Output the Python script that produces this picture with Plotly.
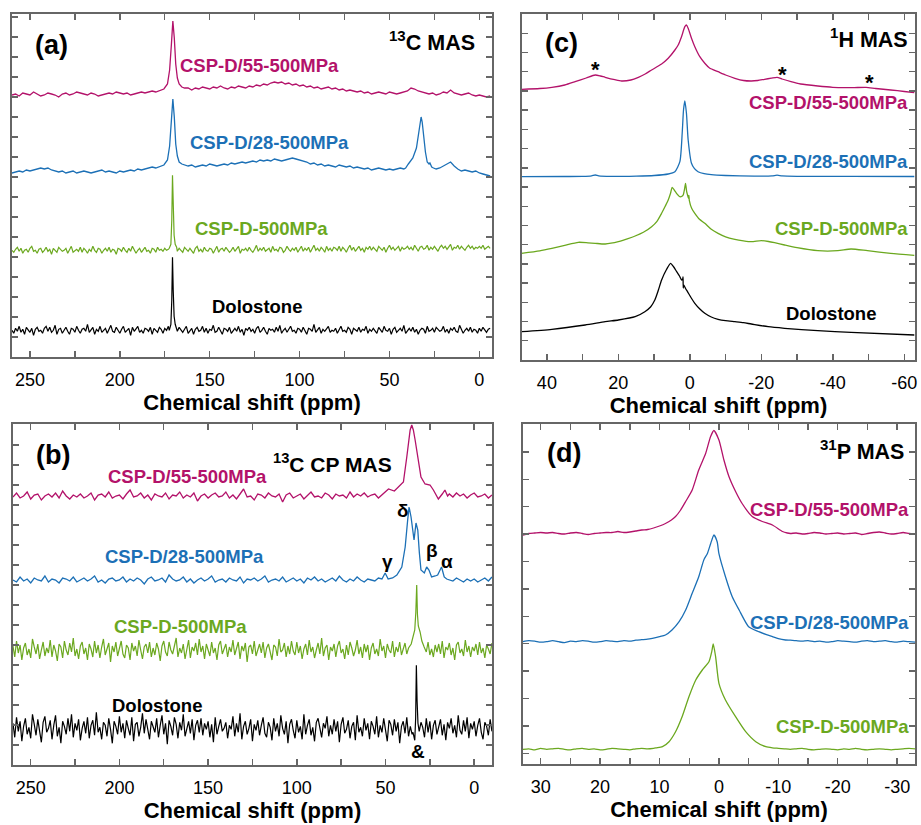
import numpy as np
import plotly.graph_objects as go

FONT = "Liberation Sans, Arial, sans-serif"
C_MAG = "#B3126A"
C_BLU = "#1C70B6"
C_GRN = "#6BA81F"
C_BLK = "#000000"
AX = "#666666"

# tick labels
a_tickvals = [250, 200, 150, 100, 50, 0]
a_ticktext = ["250", "200", "150", "100", "50", "0"]
c_tickvals = [40, 20, 0, -20, -40, -60]
c_ticktext = ["40", "20", "0", "-20", "-40", "-60"]
d_tickvals = [30, 20, 10, 0, -10, -20, -30]
d_ticktext = ["30", "20", "10", "0", "-10", "-20", "-30"]

# ===================== (a) 13C MAS =====================
# magenta / blue: baseline grid 260 -> -6 ppm, step 2
A_START = 260
a55_base = [-1,0,-2,1,0,-1,2,0,-2,-1,1,0,-1,-3,0,1,-1,0,2,1,0,-1,1,0,-2,-1,0,1,0,2,1,0,1,-1,0,1,2,1,2,3,2,
            3,4,5,6,5,6,5,
            5,6,4,6,5,7,6,5,7,6,8,6,5,7,6,8,7,6,8,
            7,9,8,10,9,11,12,11,12,10,11,9,10,8,
            9,7,8,6,7,5,6,7,5,6,4,5,3,4,3,
            2,3,1,2,0,1,2,1,0,2,1,0,1,2,3,
            6,5,3,2,1,
            0,1,-1,0,2,1,4,1,0,-1,0,1,-1,-2,-1,-2,-3,-2]
a55_pk_ppm = [178, 175.5, 173.5, 172.3, 171.3, 170.5, 169.7, 168.9, 168, 167, 165.5, 164]
a55_pk_val = [3, 5, 10, 24, 50, 73, 56, 30, 16, 10, 7, 6]

a28_base = [-1,0,1,0,2,1,2,3,4,3,4,2,1,0,1,-1,0,1,-1,0,1,0,-1,0,1,2,0,1,0,-1,1,0,1,2,1,3,2,3,4,5,4,
            5,6,7,8,7,7,6,
            7,6,7,5,6,7,6,8,7,6,7,8,7,9,8,9,10,9,10,
            11,10,12,11,12,11,13,12,11,12,13,14,13,12,
            11,10,8,9,7,8,6,7,6,5,7,6,5,6,4,
            5,4,3,4,2,3,4,3,2,3,2,3,4,3,4,
            5,8,20,40,30,
            8,5,3,4,6,8,10,6,3,1,2,1,0,1,-1,-2,-3,-4]
a28_pk1_ppm = [178, 175.5, 173.5, 172.3, 171.3, 170.5, 169.7, 168.9, 168, 167, 165.5, 164]
a28_pk1_val = [5, 7, 12, 26, 52, 73, 55, 28, 16, 10, 8, 7]
a28_pk2_ppm = [41, 39.5, 37, 35, 34, 33, 32.4, 31.8, 31, 30, 29, 28, 27.5, 26.5, 25.5]
a28_pk2_val = [4, 8, 14, 24, 36, 50, 55, 50, 36, 20, 10, 8, 9, 5, 4]

# green / black: baseline grid 260 -> -6 ppm, step 1
a500_base = [0,-2,1,3,-1,2,-3,0,1,-2,2,4,-1,0,-3,1,2,-2,0,3,
             -1,1,-4,2,0,-2,3,1,-1,0,2,-3,1,4,-2,0,1,-1,3,-2,
             2,0,-3,1,-1,4,0,-2,2,1,-3,0,2,-1,3,-2,1,0,-4,2,
             1,-1,3,0,-2,2,-1,4,1,-3,0,2,-2,1,3,-1,0,-3,2,1,
             -2,3,0,1,-1,2,0,1,0,2,0,1,-1,2,0,-2,3,1,-1,2,
             0,-3,2,4,-1,1,-2,3,0,-1,2,1,-3,0,4,-2,1,2,-1,3,
             1,-2,0,3,-1,2,4,-3,1,0,2,-1,3,0,-2,1,5,-1,2,0,
             3,-1,1,2,-2,4,0,1,-1,3,2,-2,0,4,1,-1,2,0,3,-2,
             1,4,-1,2,0,3,-2,1,5,0,2,-1,3,1,-2,4,0,2,-1,3,
             2,0,4,-1,3,1,-2,2,5,0,3,-1,1,4,0,2,-2,3,1,4,
             0,3,1,-1,4,2,0,3,-2,2,5,1,3,0,2,4,-1,3,1,2,
             4,1,3,0,5,2,-1,3,4,1,2,5,0,3,1,4,2,-1,3,5,
             2,4,1,3,6,0,3,2,5,1,4,2,0,3,5,2,4,1,3,2,
             4,2,5,1,3,4,2]
a500_pk_ppm = [172.5, 171.6, 171.1, 170.7, 170.3, 169.8, 169.2, 168.4]
a500_pk_val = [2, 6, 30, 75, 42, 15, 6, 3]

adol_base = [0,-3,2,-1,4,-2,1,-4,3,0,-2,2,-5,1,3,-1,0,-3,2,4,
             -1,3,-2,0,5,-4,1,2,-3,0,3,-1,-4,2,1,-2,4,0,-3,1,
             2,-1,6,-2,0,3,-4,1,-1,4,-2,0,2,-3,1,5,-1,-2,3,0,
             -3,1,4,-2,0,2,-5,3,-1,1,4,-2,0,-3,2,1,-1,3,-4,2,
             0,-2,3,1,-3,2,0,4,-1,1,0,2,-1,3,0,-2,1,4,-3,0,
             2,-4,1,3,-1,0,4,-2,2,-3,1,0,5,-2,-1,3,0,-4,2,1,
             -1,3,-3,0,2,-1,4,-2,1,-5,2,0,3,-1,1,-3,2,4,-2,0,
             3,-1,-4,2,0,1,-2,3,-1,5,-3,0,2,-2,1,4,-1,0,-3,2,
             1,-2,3,0,-4,2,1,-1,6,-2,0,3,-3,1,-1,2,4,-2,0,-1,
             2,-3,1,4,-1,0,-2,3,1,-4,2,0,-1,3,-2,1,0,4,-3,1,
             -1,2,0,-3,3,1,-2,4,0,-1,2,-4,1,3,-2,0,2,-1,5,-3,
             0,2,-1,3,-2,1,-4,0,2,1,-3,4,-1,0,2,-2,3,1,-1,0,
             4,-2,1,-3,2,0,3,-1,-2,5,1,-3,0,2,-1,3,-2,1,0,-3,
             2,-1,3,0,-2,1,2]
adol_pk_ppm = [172.5, 171.6, 171.1, 170.7, 170.3, 169.8, 169.2, 168.4]
adol_pk_val = [0, 6, 30, 73, 40, 14, 6, 2]

# ===================== (b) 13C CP MAS =====================
B_START = 260
# magenta / blue: step 2 ppm
b55_base = [-1,3,-2,0,4,-3,1,2,-4,0, 2,-1,3,-2,5,0,-3,1,-1,2, -2,0,3,-4,1,2,-1,4,-2,0,
            1,-3,2,6,-1,0,3,-2,1,-4, 2,0,-1,3,-3,1,0,4,-2,1, -1,3,-5,0,2,-2,1,3,-1,0,
            4,-2,1,-3,2,7,-1,0,-4,2, 1,-2,3,0,-1,2,-6,1,3,-2, 0,2,-3,1,4,-1,0,-2,3,1,
            -3,2,0,1,-2,4,-1,2,0,3, -1,1,2,-2,3,0,5,6,7,8, 9,10,20,40,60,40,20,12,8,5,
            6,-3,4,2,-1,3,0,2,-2,1, 3,-1,0,2,-2,1]
b55_pk_ppm = [52, 48.3, 45, 42.7, 39.9, 38.0, 36.1, 35.2, 34.3, 33.3, 31.8, 30.0, 27.7, 24.9, 23.0, 20.2, 18, 16.5, 15]
b55_pk_val = [1, 7, 5, 9, 14, 39, 66, 71, 66, 56, 39, 19, 12, 11, 6, -3, 2, 6, 0]

b28_base = [0,-2,3,-1,1,-3,2,0,-1,4, -2,1,0,-3,2,1,-1,3,-2,0, 2,-1,1,4,-2,0,-3,1,2,-1,
            0,3,-2,1,-1,2,0,-4,1,3, -1,0,2,-2,5,1,-1,0,3,-2, 1,-3,0,2,-1,1,4,-2,0,1,
            -2,2,0,-1,3,-3,1,0,2,-1, 1,4,-2,0,1,-1,3,-2,0,2, -1,1,-3,2,0,3,-1,1,-2,0,
            2,-1,4,0,-2,1,-1,3,0,-2, 1,0,-1,2,-2,1,3,0,2,1, 10,30,60,50,30,10,8,10,4,2,
            3,10,4,0,-1,2,0,-2,1,-1, 1,-2,0,2,-1,3]
b28_pk_ppm = [52, 50.2, 48.5, 46, 43.6, 40.8, 38.9, 37.5, 36.7, 35.6, 34.7, 33.9, 32.8, 31.8, 30.9, 30.0,
              28.1, 26.8, 25.5, 24.0, 22, 20.6, 18.4, 16.9, 15.5, 14]
b28_pk_val = [1, 7, 1, 2, 5, 13, 33, 60, 73, 63, 50, 40, 57, 50, 27, 10,
              7, 13, 10, 3, 4, 5, 13, 3, 1, 0]

# green / black: step 1 ppm
b500_base = [4,-7,9,-3,5,-10,2,7,-5,1,-8,11,3,-4,6,-9,0,8,-6,2,
             -3,10,-7,5,-1,-11,6,3,-8,9,0,-5,7,-2,12,-6,1,-9,4,8,
             -4,2,-10,6,1,-7,9,-3,5,-8,3,11,-5,0,7,-12,4,-2,8,-6,
             1,9,-4,-8,5,2,-10,7,-1,4,-6,10,0,-9,3,6,-3,8,-7,2,
             -5,7,1,-11,4,9,-2,-6,8,0,-4,5,12,-7,2,-3,6,-9,1,10,
             -8,3,-1,7,-5,11,-2,4,-9,6,0,-6,8,-3,2,-10,5,9,-4,1,
             6,-7,3,-2,10,-5,1,8,-9,4,-1,7,-12,3,5,-4,9,-6,0,6,
             -3,8,-8,2,6,-1,-10,5,3,-6,11,-2,0,7,-7,4,-4,9,-1,-5,
             8,-3,4,-9,1,6,-5,10,-2,3,-8,0,7,-4,12,-6,2,5,-10,3,
             -1,6,-7,4,9,-3,1,-9,5,-5,8,2,-6,0,10,-4,3,-8,6,-2,
             5,-10,2,7,-4,1,-6,11,-1,4,-8,6,0,-3,9,-7,3,-2,8,-5,
             2,7,-4,5,-8,3,9,-6,0,4,-3,6,-9,2,8,-5,1,-7,5,-2,
             6,-4,9,-8,3,0,7,-5,2,-10,5,8,-3,1,-6,10,-2,4,-7,3,
             -1,6,-5,8,-3,2,-8,5,1,-4,7]
b500_pk_ppm = [37, 35.5, 34.5, 33.5, 32.9, 32.4, 32.0, 31.5, 30.5, 29.5, 28.2, 27]
b500_pk_val = [2, 6, 14, 20, 38, 65, 36, 24, 18, 9, 3, -2]

bdol_base = [5,-9,11,-3,7,-13,2,10,-6,1,-10,14,4,-7,9,-2,-14,6,12,-4,
             0,8,-11,3,13,-8,1,-15,7,2,-6,10,-3,14,-9,5,-2,9,-12,0,
             7,-5,11,-10,3,8,-7,16,-4,1,-11,6,3,-8,10,-1,-15,7,2,-6,
             12,-4,5,-10,8,0,-7,11,-13,4,6,-8,1,15,-5,9,-3,-11,7,0,
             -4,10,-9,3,13,-6,5,-16,8,2,-7,11,4,-10,6,-2,14,-8,1,7,
             -5,9,-12,3,8,-4,10,-7,5,-1,7,-9,4,-14,11,-6,2,9,-3,0,
             6,-10,3,-1,12,-8,5,-4,15,-11,2,7,-6,0,9,-13,4,-2,8,-7,
             3,11,-5,-9,6,1,-12,10,-3,5,-8,13,0,-6,7,-15,4,9,-2,-10,
             8,-4,2,-11,14,-6,3,9,-7,1,-13,6,10,-2,-9,5,0,12,-8,3,
             -6,9,-3,7,-14,4,11,-5,-1,8,-10,2,6,-12,13,-4,1,-8,10,-2,
             5,-11,7,2,-6,12,-9,3,-4,10,-1,-13,8,4,-7,9,-3,6,-15,2,
             7,-5,11,-8,2,-6,9,-14,4,-3,6,1,-9,10,-4,7,-11,3,8,-6,
             2,9,-7,4,-12,6,0,10,-5,3,-9,13,-2,-6,8,-3,11,-10,5,-1,
             7,-8,3,10,-4,-11,6,2,-7,9,-3]
bdol_pk_ppm = [34.5, 33.5, 33.0, 32.6, 32.2, 31.7, 31.0, 30.5]
bdol_pk_val = [-4, -12, 10, 63, 28, 5, -3, 4]

# ===================== (c) 1H MAS : key points (ppm, intensity) =====================
c55_ppm = [47, 42, 38.6, 35, 32.1, 29, 26.5, 25, 23.7, 21, 19.1, 16.5, 14.4, 12.5, 10.7, 7.9, 6.05, 4.18, 3.26,
           2.33, 1.4, 0.95, 0.47, -0.46, -1.39, -2.79, -4.18, -5.5, -7.9, -10, -12.6, -15, -17.2, -19, -20.9,
           -22.8, -24.4, -25.8, -28.3, -31, -35.8, -40, -43.2, -46, -49.3, -52, -56.2, -60, -62.8]
c55_val = [3.7, 4.5, 5.7, 8, 11.3, 15, 18, 17, 15.7, 13.3, 12, 13, 15.7, 19, 23, 29, 34.7, 43, 48,
           56.3, 66.3, 68, 64.7, 54.7, 46.3, 36.3, 29.7, 25, 21.3, 18, 14.7, 12.5, 12, 12.5, 13.7,
           14.8, 15.7, 14, 11.3, 9, 7, 5.7, 5.3, 5.4, 5.7, 4.5, 3, 1.5, 0.3]

c28_ppm = [47, 35, 30, 27.5, 26.5, 25.5, 22, 15, 10, 6.05, 4.18, 2.79, 2.14, 1.77, 1.4, 0.95, 0.47, -0.46,
           -1.3, -2.3, -4, -6, -10, -18, -23, -24.4, -25.8, -30, -45, -62.8]
c28_val = [0, 0.2, 0.3, 0.8, 1.7, 0.8, 0.3, 0.6, 1.2, 2.7, 5, 15, 43.4, 66.7, 75.7, 63.4, 36.7, 13.4,
           8, 5, 3, 2, 1.2, 0.6, 0.8, 1.5, 0.8, 0.4, 0.3, 0.2]

c500_ppm = [47.1, 42, 38.6, 35, 31.2, 28.5, 26.5, 23.7, 20, 17.5, 15.3, 13, 10.7, 9.2, 7.9, 6.9, 6.05, 5.4,
            4.94, 4.3, 3.73, 2.8, 2.2, 1.87, 1.5, 1.21, 0.9, 0.65, 0.4, 0.28, 0.15, -0.5, -1.39, -2.7,
            -4.18, -6, -7.9, -10, -12.6, -15, -17.2, -20, -22, -23.7, -26.5, -30, -35.8, -41.4, -45.1,
            -49.7, -56.2, -62.8]
c500_val = [2, 4.5, 7, 10, 13, 12.5, 12, 11.3, 13.6, 16.5, 19.3, 23, 28.6, 34, 42, 49, 55.3, 62,
            68, 65, 62, 58.6, 59, 60.3, 66, 72, 64, 60.3, 57, 60, 55, 47, 42, 36,
            32, 26, 22, 18.5, 16, 14.5, 13.6, 14.6, 13.8, 12.6, 10.3, 7.6, 4.6, 4.6, 6.3,
            4.6, 2, 0]

cdol_ppm = [47.1, 38.6, 29.3, 23.7, 20, 15.3, 12.6, 11, 9.8, 8.8, 7.9, 6.5, 5.4, 4.5, 3.7, 2.9, 2.3, 1.95,
            1.9, 1.85, 1.7, 1.2, 0.65, -0.4, -1.39, -2.8, -4.18, -6, -7.9, -10, -12.6, -15, -17.2,
            -21.9, -26.5, -35.8, -45.1, -62.8]
cdol_val = [3.3, 5.7, 10, 13.3, 15, 18.3, 23.3, 28, 35, 45, 55, 65.7, 71.7, 68, 63.3, 59, 55, 56.5,
            58, 47, 50, 46.5, 43.3, 37, 31.7, 26, 21.7, 18, 15.7, 14.3, 13.3, 12.3, 11,
            8.3, 6.7, 4.3, 2.7, 0]

# ===================== (d) 31P MAS : left baseline (1 ppm steps from 33), peak, right baseline (to -33) =====================
D_LEFT, D_RIGHT = 33, -33
d55_left = [-1.5,0,0.5,1,0.5,1,0,-0.5,0.5,1,0,-1,0,0.5,1,1,2,1,1.5,2.5,3.5,4]
d55_pk_ppm = [11, 10, 9, 8, 7.3, 6.5, 5.6, 4.5, 3.4, 2.24, 1.4, 0.84, 0, -0.84, -1.68, -2.8, -3.9,
              -5.6, -7.3, -9.0, -10.7, -11.5]
d55_pk_val = [5.5, 7.5, 10, 13.5, 17, 23, 32, 43.5, 63.5, 80, 97, 103, 93.5, 73.5, 57, 42, 30,
              17, 12, 8.5, 2, 0.5]
d55_right = [0,0.5,-0.5,0,1,0.5,-0.5,0,0.5,-0.5,0,0.5,-1,0,1,1.5,0.5,-0.5,0,1,0,-0.5]

d28_left = [0,1,0.5,-0.5,0,1,0,-1,0.5,0,1,0.5,-0.5,0,1,0.5,0,1,0.5,1.5,2]
d28_pk_ppm = [12, 11.2, 10, 9, 7.9, 6.7, 5.6, 4.5, 3.4, 2.53, 1.96, 1.4, 0.84, 0.3, 0, -1.1, -2.24,
              -3.4, -5.0, -6.7, -8, -9, -10, -11.2]
d28_pk_val = [2.5, 3.4, 5, 6.7, 11.7, 20, 31.7, 48.4, 65, 82, 88, 98, 106.7, 100, 88, 65, 45,
              31.7, 15, 10, 7, 5, 3, 1.7]
d28_right = [1.5,1,0.5,1,0,0.5,-0.5,0,1,0.5,0,-0.5,0.5,1,0,0.5,1,0,-0.5,0.5,0,-0.5]

d500_left = [0,0.5,-0.5,1,0,0.5,1,0,-0.5,0.5,1,0,0.5,-0.5,0,1,0.5,0,-0.5,0.5,1,0.5,1]
d500_pk_ppm = [10.5, 9.5, 8.4, 7.3, 6.2, 5.05, 3.9, 2.8, 1.68, 1.2, 0.96, 0.56, 0, -1.1, -2.8, -4.5,
               -6.2, -7.9, -9]
d500_pk_val = [1.5, 2.6, 7.6, 17.6, 32.6, 52.6, 69.3, 79.3, 87.6, 98, 105.3, 92.6, 66, 49.3, 32.6,
               17.6, 7.6, 2.6, 1.5]
d500_right = [1,0.5,0,0.5,1,0,-0.5,0,0.5,0,-0.5,0.5,0,1,0,-0.5,0,0.5,0,-0.5,0,0.5,1,0.5]


# ---------------- helpers ----------------
def grid(start, step, n):
    return [start - step * i for i in range(n)]


def merge(base_ppm, base_val, peaks):
    pts = list(zip(base_ppm, base_val))
    for pp, pv in peaks:
        lo, hi = min(pp), max(pp)
        pts = [(p, v) for p, v in pts if p > hi or p < lo]
        pts += list(zip(pp, pv))
    pts.sort(key=lambda t: -t[0])
    return [p for p, _ in pts], [v for _, v in pts]


fig = go.Figure()


def add(x, y, color, xa, ya, off, shape="linear", width=1.3):
    fig.add_trace(go.Scatter(x=x, y=[v + off for v in y], mode="lines", xaxis=xa, yaxis=ya,
                             line=dict(color=color, width=width, shape=shape, smoothing=0.6),
                             showlegend=False, hoverinfo="skip"))


# panel a
x, y = merge(grid(A_START, 2, len(a55_base)), a55_base, [(a55_pk_ppm, a55_pk_val)])
add(x, y, C_MAG, "x", "y", 263)
x, y = merge(grid(A_START, 2, len(a28_base)), a28_base, [(a28_pk1_ppm, a28_pk1_val), (a28_pk2_ppm, a28_pk2_val)])
add(x, y, C_BLU, "x", "y", 185)
x, y = merge(grid(A_START, 1, len(a500_base)), a500_base, [(a500_pk_ppm, a500_pk_val)])
add(x, y, C_GRN, "x", "y", 106.7, width=1.2)
x, y = merge(grid(A_START, 1, len(adol_base)), adol_base, [(adol_pk_ppm, adol_pk_val)])
add(x, y, C_BLK, "x", "y", 26.7, width=1.2)

# panel b
x, y = merge(grid(B_START, 2, len(b55_base)), b55_base, [(b55_pk_ppm, b55_pk_val)])
add(x, y, C_MAG, "x2", "y2", 269)
x, y = merge(grid(B_START, 2, len(b28_base)), b28_base, [(b28_pk_ppm, b28_pk_val)])
add(x, y, C_BLU, "x2", "y2", 185)
x, y = merge(grid(B_START, 1, len(b500_base)), b500_base, [(b500_pk_ppm, b500_pk_val)])
add(x, y, C_GRN, "x2", "y2", 115, width=1.2)
x, y = merge(grid(B_START, 1, len(bdol_base)), bdol_base, [(bdol_pk_ppm, bdol_pk_val)])
add(x, y, C_BLK, "x2", "y2", 36.7, width=1.2)

# panel c
add(c55_ppm, c55_val, C_MAG, "x3", "y3", 267, "spline")
add(c28_ppm, c28_val, C_BLU, "x3", "y3", 183.3, "spline")
add(c500_ppm, c500_val, C_GRN, "x3", "y3", 104.7, "spline")
add(cdol_ppm, cdol_val, C_BLK, "x3", "y3", 25, "spline")


# panel d
def dtrace(left, pk_ppm, pk_val, right):
    lx = [D_LEFT - i for i in range(len(left))]
    rx = [D_RIGHT + (len(right) - 1 - i) for i in range(len(right))]
    return lx + list(pk_ppm) + rx, list(left) + list(pk_val) + list(right)


x, y = dtrace(d55_left, d55_pk_ppm, d55_pk_val, d55_right)
add(x, y, C_MAG, "x4", "y4", 230.5, "spline")
x, y = dtrace(d28_left, d28_pk_ppm, d28_pk_val, d28_right)
add(x, y, C_BLU, "x4", "y4", 122.3, "spline")
x, y = dtrace(d500_left, d500_pk_ppm, d500_pk_val, d500_right)
add(x, y, C_GRN, "x4", "y4", 14.7, "spline")


# ---------------- axes ----------------
def xax(dom, rng, tv, tt, mdt, anchor):
    return dict(domain=dom, range=rng, anchor=anchor, tickmode="array", tickvals=tv, ticktext=tt,
                ticks="inside", ticklen=6, tickwidth=1.4, tickcolor=AX,
                minor=dict(tickmode="linear", tick0=0, dtick=mdt, ticks="inside", ticklen=6,
                           tickwidth=1.4, tickcolor=AX),
                showline=True, linecolor=AX, linewidth=1.7, mirror="allticks",
                showgrid=False, zeroline=False, ticklabelstandoff=6,
                tickfont=dict(family=FONT, size=18, color="black"),
                title=dict(text="<b>Chemical shift (ppm)</b>", standoff=5,
                           font=dict(family=FONT, size=22, color="black")))


def yax(dom, rng, t0, dt, anchor):
    return dict(domain=dom, range=rng, anchor=anchor, tick0=t0, dtick=dt,
                ticks="inside", ticklen=6, tickwidth=1.4, tickcolor=AX, showticklabels=False,
                showline=True, linecolor=AX, linewidth=1.7, mirror="allticks",
                showgrid=False, zeroline=False)


W, H = 921, 825


def dx(a, b):
    return [a / W, b / W]


def dy(top, bot):
    return [1 - bot / H, 1 - top / H]


fig.update_layout(
    width=W, height=H, margin=dict(l=0, r=0, t=0, b=0),
    paper_bgcolor="white", plot_bgcolor="white",
    xaxis=xax(dx(12, 493), [260, -7], a_tickvals, a_ticktext, 25, "y"),
    yaxis=yax(dy(14, 357), [0, 343], 0, 20, "x"),
    xaxis2=xax(dx(13, 493), [260, -10], a_tickvals, a_ticktext, 25, "y2"),
    yaxis2=yax(dy(424, 765), [0, 341], 0, 20, "x2"),
    xaxis3=xax(dx(523, 917), [47, -63], c_tickvals, c_ticktext, 10, "y3"),
    yaxis3=yax(dy(14, 360), [0, 346], 0, 19.22, "x3"),
    xaxis4=xax(dx(524, 917), [33, -33], d_tickvals, d_ticktext, 5, "y4"),
    yaxis4=yax(dy(424, 764), [0, 340], 10.7, 27.4, "x4"),
)

anns = []


def txt(text, x, y, xr, yr, size, color="black", xanchor="center", yanchor="middle"):
    anns.append(dict(text=text, x=x, y=y, xref=xr, yref=yr, showarrow=False,
                     xanchor=xanchor, yanchor=yanchor,
                     font=dict(family=FONT, size=size, color=color)))


LBL = 18.5
HDR = 21.5
# (a)
txt("<b>(a)</b>", 237.8, 311.7, "x", "y", 27)
txt("<b><sup>13</sup>C MAS</b>", 1.1, 316, "x", "y", HDR, xanchor="right")
txt("<b>CSP-D/55-500MPa</b>", 122.2, 291.7, "x", "y", LBL, C_MAG)
txt("<b>CSP-D/28-500MPa</b>", 116.7, 214.7, "x", "y", LBL, C_BLU)
txt("<b>CSP-D-500MPa</b>", 121.1, 129, "x", "y", LBL, C_GRN)
txt("<b>Dolostone</b>", 123.9, 50.7, "x", "y", LBL)
# (b)
txt("<b>(b)</b>", 237.6, 310, "x2", "y2", 27)
txt("<b><sup>13</sup>C CP MAS</b>", 114.6, 302, "x2", "y2", HDR - 0.5, xanchor="left")
txt("<b>CSP-D/55-500MPa</b>", 161.8, 288.3, "x2", "y2", LBL, C_MAG)
txt("<b>CSP-D/28-500MPa</b>", 163.5, 208.3, "x2", "y2", LBL, C_BLU)
txt("<b>CSP-D-500MPa</b>", 165.7, 138.3, "x2", "y2", LBL, C_GRN)
txt("<b>Dolostone</b>", 178.7, 60, "x2", "y2", LBL)
txt("<b>δ</b>", 39.9, 254.3, "x2", "y2", 19)
txt("<b>γ</b>", 48.7, 203.3, "x2", "y2", 19)
txt("<b>β</b>", 24.0, 215, "x2", "y2", 19)
txt("<b>α</b>", 15.6, 203.3, "x2", "y2", 19)
txt("<b>&</b>", 31.5, 13.3, "x2", "y2", 19)
# (c)
txt("<b>(c)</b>", 35.9, 317, "x3", "y3", 27)
txt("<b><sup>1</sup>H MAS</b>", -61.5, 322, "x3", "y3", HDR, xanchor="right")
txt("<b>CSP-D/55-500MPa</b>", -61.5, 257.3, "x3", "y3", LBL, C_MAG, xanchor="right")
txt("<b>CSP-D/28-500MPa</b>", -61.5, 199, "x3", "y3", LBL, C_BLU, xanchor="right")
txt("<b>CSP-D-500MPa</b>", -61.5, 131.7, "x3", "y3", LBL, C_GRN, xanchor="right")
txt("<b>Dolostone</b>", -39.5, 46.7, "x3", "y3", LBL)
txt("<b>*</b>", 26.3, 291, "x3", "y3", 22)
txt("<b>*</b>", -25.8, 286, "x3", "y3", 22)
txt("<b>*</b>", -50.4, 278, "x3", "y3", 22)
# (d)
txt("<b>(d)</b>", 26.1, 310.7, "x4", "y4", 27)
txt("<b><sup>31</sup>P MAS</b>", -31.5, 314, "x4", "y4", HDR, xanchor="right")
txt("<b>CSP-D/55-500MPa</b>", -32.3, 255, "x4", "y4", LBL, C_MAG, xanchor="right")
txt("<b>CSP-D/28-500MPa</b>", -32.3, 141.3, "x4", "y4", LBL, C_BLU, xanchor="right")
txt("<b>CSP-D-500MPa</b>", -32.3, 38, "x4", "y4", LBL, C_GRN, xanchor="right")

fig.update_layout(annotations=anns)
# remove the default page margin so the 921x825 figure fills the window exactly
fig.write_html("out.html", default_width=f"{W}px", default_height=f"{H}px",
               config={"displayModeBar": False, "staticPlot": True},
               post_script="document.body.style.margin='0';document.body.style.overflow='hidden';")
